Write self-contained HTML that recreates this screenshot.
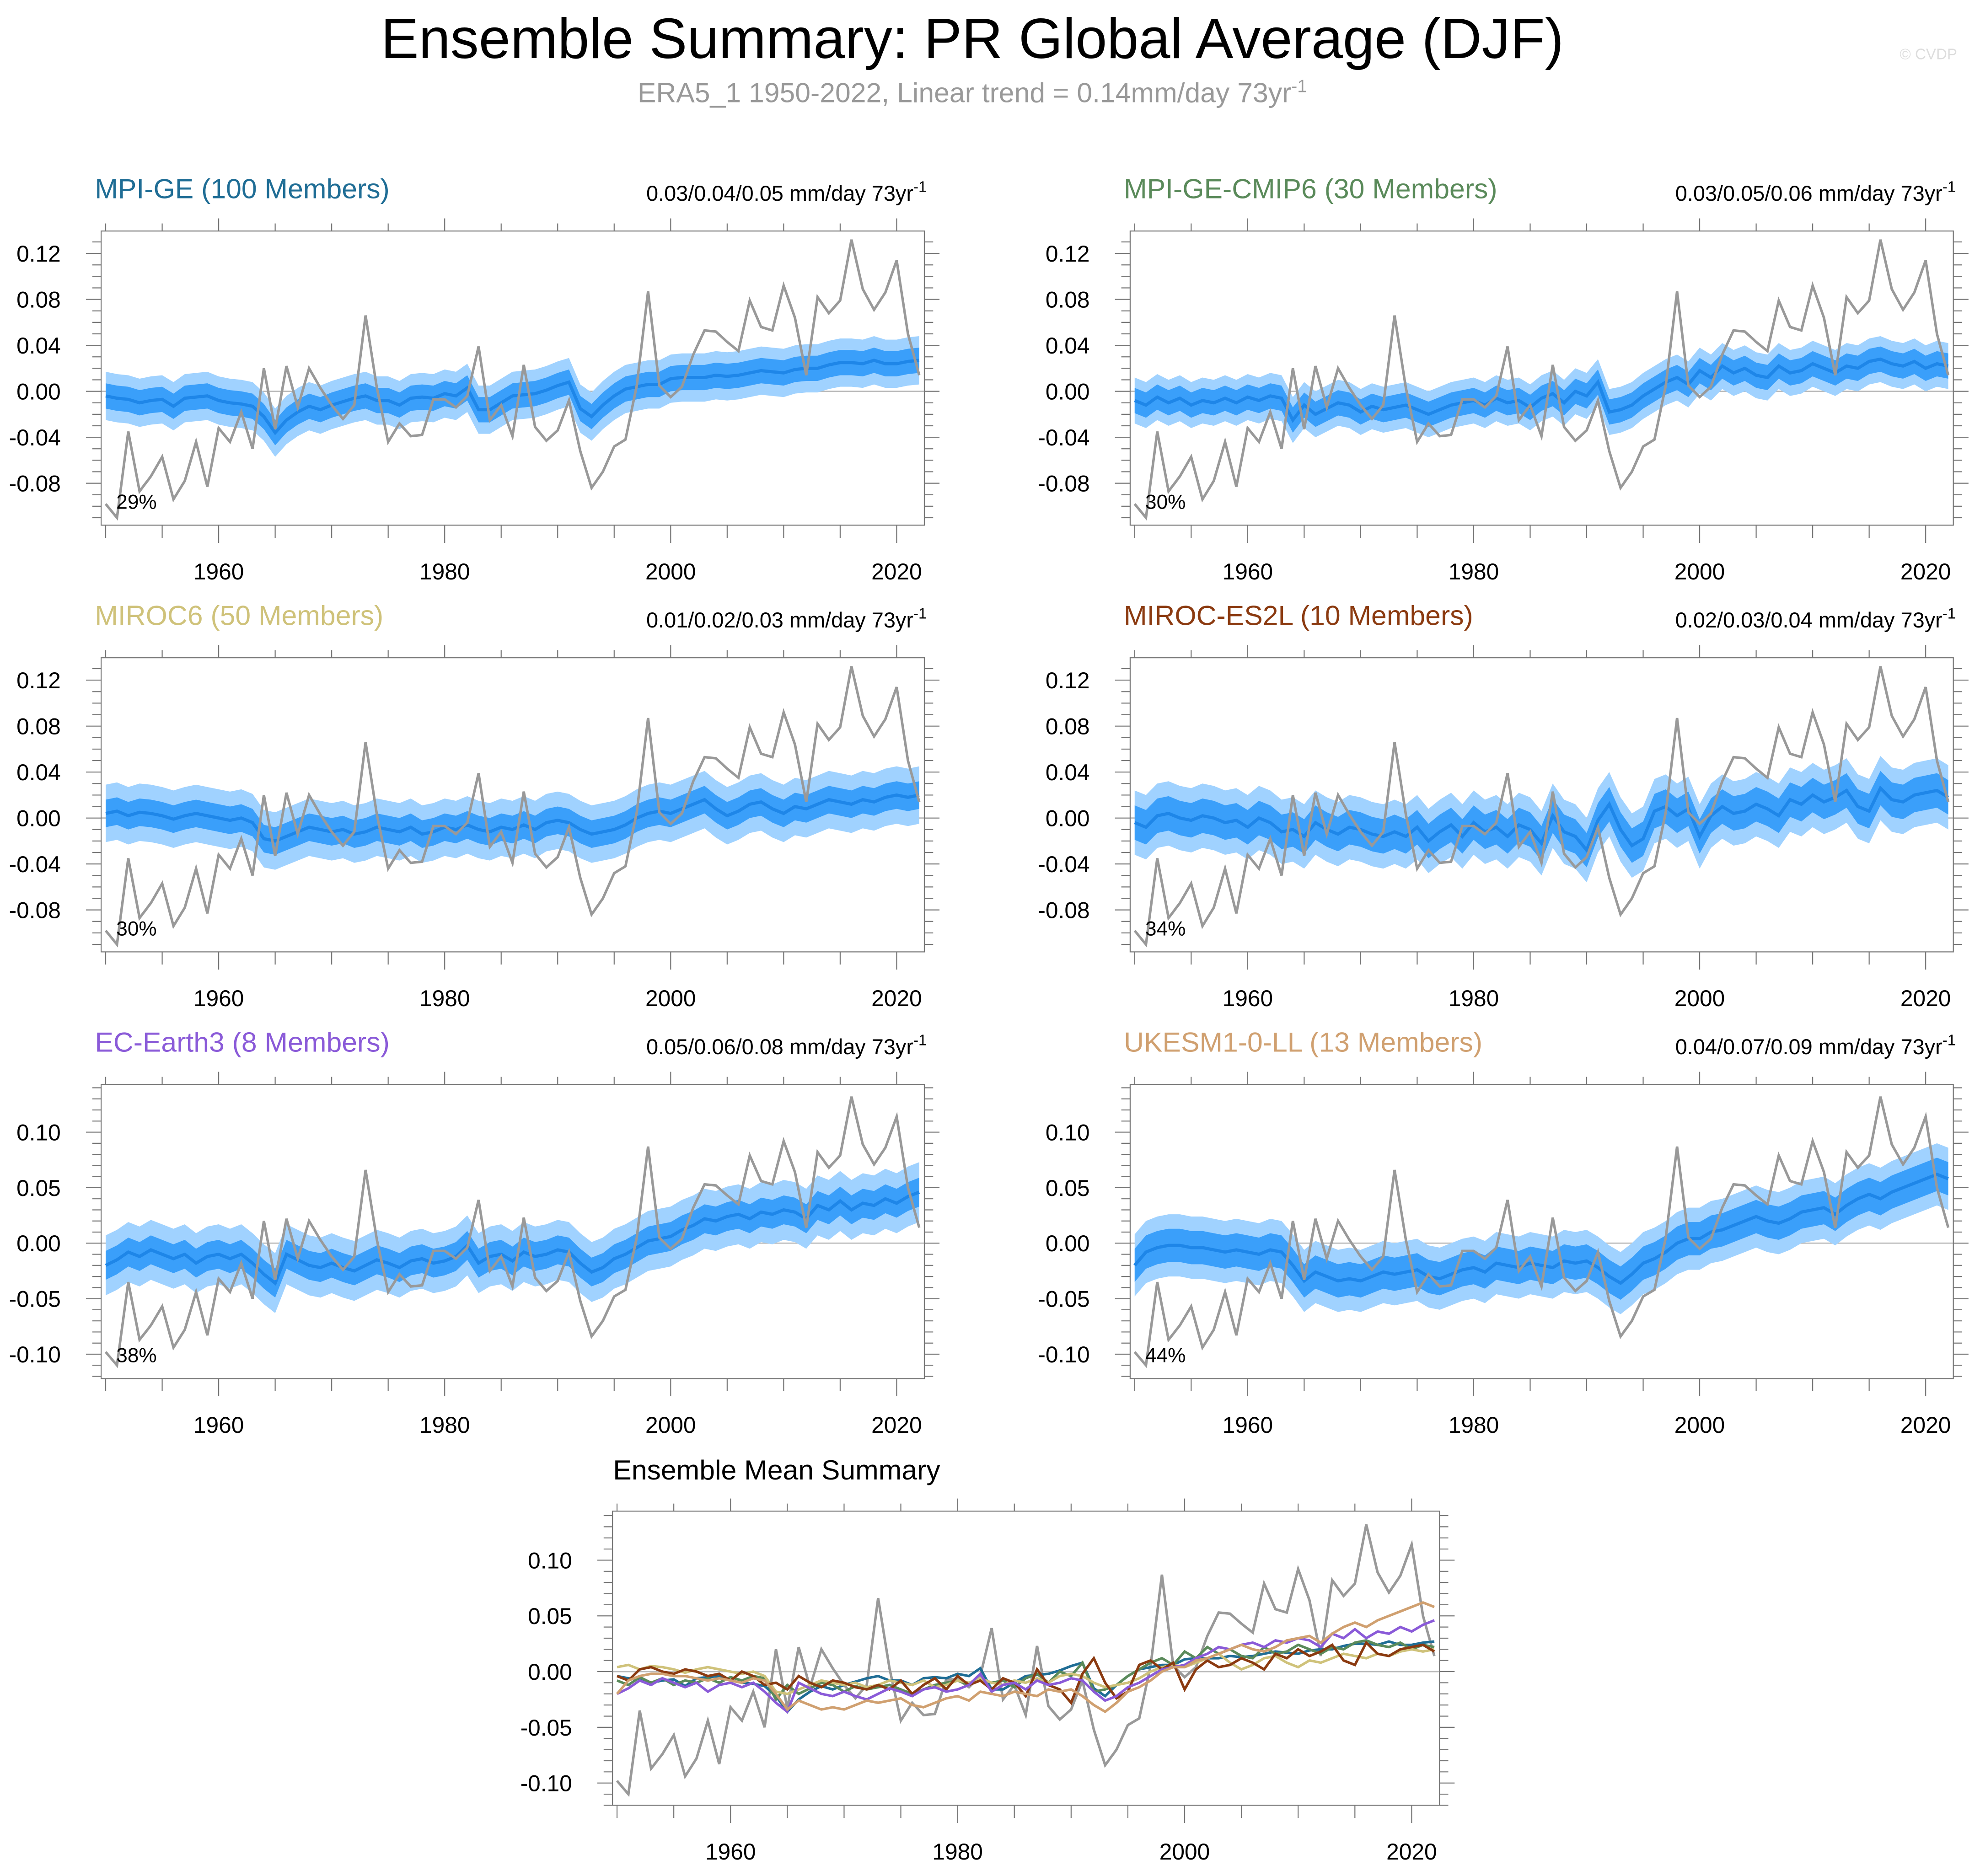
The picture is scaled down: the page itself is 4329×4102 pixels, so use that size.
<!DOCTYPE html>
<html><head><meta charset="utf-8"><style>
html,body{margin:0;padding:0;background:#fff}
svg{display:block;font-family:"Liberation Sans",Arial,sans-serif}
</style></head><body>
<svg id="chart" width="4329" height="4102" viewBox="0 0 1568 1486" xmlns="http://www.w3.org/2000/svg">
<rect width="1568" height="1486" fill="#fff"/>
<text x="770" y="46" font-size="45" text-anchor="middle" fill="#000">Ensemble Summary: PR Global Average (DJF)</text>
<text x="770" y="81" font-size="22" text-anchor="middle" fill="#999">ERA5_1 1950-2022, Linear trend = 0.14mm/day 73yr<tspan font-size="14" dy="-8">-1</tspan></text>
<text x="1550" y="47" font-size="12" text-anchor="end" fill="#ddd">© CVDP</text>
<g id="plots"></g>
</svg>
<script>
const years=[];for(let y=1950;y<=2022;y++)years.push(y);
const era5=[-0.098,-0.110,-0.035,-0.087,-0.074,-0.057,-0.094,-0.078,-0.044,-0.083,
-0.032,-0.044,-0.018,-0.050,0.020,-0.033,0.022,-0.014,0.020,0.003,
-0.012,-0.024,-0.012,0.066,0.003,-0.044,-0.028,-0.039,-0.038,-0.007,
-0.007,-0.014,-0.004,0.039,-0.025,-0.012,-0.039,0.023,-0.031,-0.043,
-0.034,-0.008,-0.052,-0.084,-0.070,-0.048,-0.042,0.005,0.087,0.005,
-0.005,0.004,0.032,0.053,0.052,0.043,0.035,0.079,0.056,0.053,
0.092,0.064,0.014,0.082,0.068,0.079,0.132,0.089,0.071,0.086,
0.114,0.050,0.014];
const mpiGE=[-0.004,-0.006,-0.007,-0.010,-0.008,-0.007,-0.013,-0.006,-0.005,-0.004,
-0.008,-0.010,-0.011,-0.013,-0.022,-0.036,-0.025,-0.018,-0.013,-0.016,
-0.012,-0.009,-0.006,-0.004,-0.008,-0.008,-0.012,-0.006,-0.005,-0.006,
-0.002,-0.004,0.003,-0.016,-0.016,-0.010,-0.004,-0.003,-0.002,0.001,
0.005,0.008,-0.015,-0.022,-0.012,-0.004,0.002,0.004,0.006,0.006,
0.011,0.012,0.012,0.012,0.014,0.013,0.014,0.016,0.018,0.017,
0.016,0.019,0.020,0.020,0.023,0.025,0.025,0.024,0.027,0.024,
0.024,0.026,0.027];
const mpiCMIP6=[-0.008,-0.012,-0.005,-0.010,-0.006,-0.012,-0.008,-0.010,-0.006,-0.010,
-0.005,-0.008,-0.004,-0.006,-0.025,-0.012,-0.020,-0.015,-0.010,-0.012,
-0.018,-0.013,-0.016,-0.014,-0.012,-0.016,-0.020,-0.016,-0.012,-0.010,
-0.008,-0.012,-0.006,-0.010,-0.008,-0.014,-0.006,-0.002,-0.010,0.000,
-0.004,0.008,-0.018,-0.016,-0.012,-0.004,0.002,0.008,0.012,0.006,
0.018,0.012,0.022,0.016,0.020,0.014,0.012,0.022,0.016,0.018,
0.024,0.020,0.016,0.022,0.020,0.026,0.028,0.024,0.022,0.026,
0.020,0.024,0.022];
const miroc6=[0.004,0.006,0.002,0.005,0.004,0.002,-0.001,0.002,0.004,0.002,
0.000,-0.002,0.000,-0.004,-0.018,-0.020,-0.016,-0.012,-0.008,-0.010,
-0.012,-0.010,-0.014,-0.012,-0.008,-0.010,-0.012,-0.008,-0.014,-0.012,
-0.008,-0.010,-0.006,-0.010,-0.012,-0.008,-0.010,-0.006,-0.010,-0.004,
-0.002,-0.004,-0.010,-0.014,-0.012,-0.010,-0.006,0.000,0.004,0.006,
0.004,0.008,0.012,0.016,0.008,0.002,0.006,0.012,0.014,0.008,
0.004,0.010,0.008,0.012,0.016,0.014,0.012,0.016,0.014,0.018,
0.020,0.018,0.020];
const mirocES2L=[-0.004,-0.008,0.002,0.004,0.000,-0.002,0.002,0.000,-0.004,-0.002,
-0.008,0.000,-0.004,-0.012,-0.010,-0.016,-0.004,-0.010,-0.014,-0.008,
-0.010,-0.014,-0.016,-0.012,-0.016,-0.008,-0.020,-0.012,-0.006,-0.016,
-0.004,-0.012,-0.008,-0.016,-0.006,-0.010,-0.022,0.002,-0.012,-0.016,
-0.028,-0.002,0.012,-0.010,-0.024,-0.018,0.006,0.010,0.002,0.008,
-0.016,0.002,0.010,0.004,0.006,0.012,0.008,0.002,0.016,0.012,
0.020,0.014,0.018,0.024,0.010,0.006,0.026,0.016,0.014,0.020,
0.022,0.024,0.018];
const ecEarth3=[-0.020,-0.015,-0.008,-0.012,-0.006,-0.010,-0.014,-0.010,-0.018,-0.012,
-0.010,-0.014,-0.010,-0.018,-0.028,-0.036,-0.010,-0.015,-0.020,-0.022,
-0.018,-0.022,-0.025,-0.020,-0.015,-0.018,-0.022,-0.016,-0.014,-0.018,
-0.016,-0.012,-0.002,-0.018,-0.012,-0.010,-0.016,-0.008,-0.012,-0.010,
-0.006,-0.008,-0.018,-0.026,-0.022,-0.014,-0.010,-0.004,0.002,0.004,
0.006,0.012,0.016,0.022,0.020,0.024,0.026,0.022,0.028,0.026,
0.030,0.028,0.022,0.034,0.030,0.038,0.030,0.036,0.034,0.040,
0.036,0.042,0.046];
const ukesm=[-0.020,-0.008,-0.004,-0.002,-0.002,-0.004,-0.004,-0.006,-0.008,-0.006,
-0.008,-0.010,-0.006,-0.008,-0.020,-0.034,-0.026,-0.030,-0.034,-0.032,
-0.034,-0.030,-0.026,-0.028,-0.026,-0.024,-0.030,-0.032,-0.028,-0.024,
-0.022,-0.026,-0.018,-0.020,-0.022,-0.018,-0.020,-0.022,-0.016,-0.018,
-0.016,-0.022,-0.030,-0.036,-0.028,-0.018,-0.014,-0.008,0.000,0.004,
0.004,0.010,0.012,0.016,0.020,0.024,0.020,0.018,0.022,0.028,
0.030,0.032,0.026,0.034,0.040,0.044,0.040,0.046,0.050,0.054,
0.058,0.062,0.058];
const innerSpread=[0.011,0.011,0.012,0.015,0.013,0.015];
const outerSpread=[0.021,0.020,0.025,0.028,0.027,0.028];
const modelNames=["MPI-GE (100 Members)","MPI-GE-CMIP6 (30 Members)","MIROC6 (50 Members)","MIROC-ES2L (10 Members)","EC-Earth3 (8 Members)","UKESM1-0-LL (13 Members)"];
const modelColors=["#1f6d95","#5a8a5a","#cfc27a","#8b3a10","#8a5ad8","#d0a070"];
const trendLabels=["0.03/0.04/0.05","0.03/0.05/0.06","0.01/0.02/0.03","0.02/0.03/0.04","0.05/0.06/0.08","0.04/0.07/0.09"];
const pctLabels=["29%","30%","30%","34%","38%","44%"];
const ticks1=[-0.08,-0.04,0.00,0.04,0.08,0.12];
const ticks2=[-0.10,-0.05,0.00,0.05,0.10];
const xTicks=[1960,1980,2000,2020];
const means=[mpiGE,mpiCMIP6,miroc6,mirocES2L,ecEarth3,ukesm];

const NS="http://www.w3.org/2000/svg";
const root=document.getElementById('plots');
function mk(tag,attrs,parent){const e=document.createElementNS(NS,tag);for(const k in attrs)e.setAttribute(k,attrs[k]);(parent||root).appendChild(e);return e;}

function axes(g,x0,y0,w,h,ymin,ymax,yt){
  const sx=v=>x0+(v-1949.6)/(2022.45-1949.6)*w;
  const sy=v=>y0+(ymax-v)/(ymax-ymin)*h;
  const z=mk('line',{x1:x0,x2:x0+w,y1:sy(0),y2:sy(0),stroke:'#bbb','stroke-width':1},g);
  
  
  for(let y=1950;y<=2022;y+=5){
    const major=(y%20===0);const L=major?10:6;const x=sx(y);
    mk('line',{x1:x,x2:x,y1:y0,y2:y0-L,stroke:'#777','stroke-width':0.8},g);
    mk('line',{x1:x,x2:x,y1:y0+h,y2:y0+h+L+4,stroke:'#777','stroke-width':0.8},g);
  }
  xTicks.forEach(y=>{const t=mk('text',{x:sx(y),y:y0+h+43,'font-size':18,'text-anchor':'middle'},g);t.textContent=y;
    
    });
  for(let v=Math.ceil(ymin*100);v<=Math.floor(ymax*100);v++){
    const val=v/100;const isMaj=yt.some(t=>Math.abs(t-val)<1e-6);const L=isMaj?12:7;const y=sy(val);
    mk('line',{x1:x0,x2:x0-L,y1:y,y2:y,stroke:'#777','stroke-width':0.8},g);
    mk('line',{x1:x0+w,x2:x0+w+L,y1:y,y2:y,stroke:'#777','stroke-width':0.8},g);
  }
  yt.forEach(v=>{const t=mk('text',{x:x0-32,y:sy(v)+6.5,'font-size':18,'text-anchor':'end'},g);t.textContent=v.toFixed(2);
    
    });
  return {sx,sy};
}
function linePath(arr,sx,sy){return arr.map((v,i)=>(i?'L':'M')+sx(years[i]).toFixed(2)+','+sy(v).toFixed(2)).join('');}
function bandPath(arr,d,sx,sy){
  let p=arr.map((v,i)=>(i?'L':'M')+sx(years[i]).toFixed(2)+','+sy(v+d).toFixed(2)).join('');
  for(let i=arr.length-1;i>=0;i--)p+='L'+sx(years[i]).toFixed(2)+','+sy(arr[i]-d).toFixed(2);
  return p+'Z';
}
const rowsY=[183,521,859];
for(let m=0;m<6;m++){
  const row=Math.floor(m/2),col=m%2;
  const x0=col?895:80,y0=rowsY[row],w=652,h=233;
  const ymin=row<2?-0.1165:-0.122,ymax=row<2?0.1395:0.143;
  const g=mk('g',{});
  
  
  const {sx,sy}=axes(g,x0,y0,w,h,ymin,ymax,row<2?ticks1:ticks2);
  const ob=mk('path',{d:bandPath(means[m],outerSpread[m],sx,sy),fill:'#a0d2ff'},g);
  
  
  const ib=mk('path',{d:bandPath(means[m],innerSpread[m],sx,sy),fill:'#3a9ffa'},g);
  
  
  const ml=mk('path',{d:linePath(means[m],sx,sy),fill:'none',stroke:'#1e86e8','stroke-width':2.5},g);
  
  
  const ol=mk('path',{d:linePath(era5,sx,sy),fill:'none',stroke:'#999','stroke-width':2},g);
  
  
  const box=mk('rect',{x:x0,y:y0,width:w,height:h,fill:'none',stroke:'#777','stroke-width':0.8},g);
  
  
  const t=mk('text',{x:x0-5,y:y0-26,'font-size':22,fill:modelColors[m]},g);t.textContent=modelNames[m];
  
  
  const a=mk('text',{x:x0+w+2,y:y0-24,'font-size':17,'text-anchor':'end'},g);
  a.innerHTML=trendLabels[m]+' mm/day 73yr<tspan font-size="12" dy="-7">-1</tspan>';
  
  
  const p=mk('text',{x:x0+12,y:y0+h-13,'font-size':16},g);p.textContent=pctLabels[m];
  
  
}
{
  const x0=485,y0=1197,w=655,h=233;
  const g=mk('g',{});
  
  
  const {sx,sy}=axes(g,x0,y0,w,h,-0.12,0.144,ticks2);
  const ol=mk('path',{d:linePath(era5,sx,sy),fill:'none',stroke:'#999','stroke-width':2},g);
  
  
  for(let m=0;m<6;m++){
    const l=mk('path',{d:linePath(means[m],sx,sy),fill:'none',stroke:modelColors[m],'stroke-width':2},g);
    
    
  }
  const box=mk('rect',{x:x0,y:y0,width:w,height:h,fill:'none',stroke:'#777','stroke-width':0.8},g);
  
  
  const t=mk('text',{x:615,y:1172,'font-size':22,'text-anchor':'middle'},g);t.textContent='Ensemble Mean Summary';
  
  
}
</script>
</body></html>
